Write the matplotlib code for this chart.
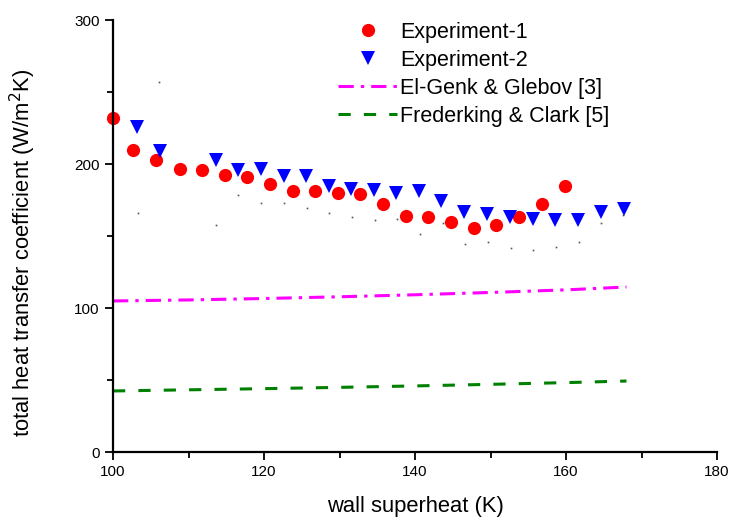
import numpy as np
import matplotlib.pyplot as plt
from matplotlib.ticker import MultipleLocator

plt.rcParams['font.family'] = ['Liberation Sans', 'DejaVu Sans']

# Experiment-1 (red circles)
x_exp1 = [100, 102.6, 105.7, 108.9, 111.8, 114.8, 117.7, 120.8, 123.8, 126.8, 129.8,
          132.7, 135.8, 138.8, 141.7, 144.8, 147.8, 150.7, 153.8, 156.8, 159.9]
h_exp1 = [232, 209.7, 202.8, 196.5, 195.8, 192.4, 191, 186, 181, 181, 180,
          179, 172, 164, 163, 160, 155.5, 157.6, 163, 172, 185]

# Experiment-2 (blue triangles)
x_exp2 = [103.2, 106.2, 113.6, 116.6, 119.6, 122.6, 125.6, 128.6, 131.5, 134.5, 137.5,
          140.5, 143.4, 146.5, 149.5, 152.6, 155.6, 158.5, 161.6, 164.6, 167.7]
h_exp2 = [225.7, 209, 203, 196, 196.5, 192, 191.7, 185, 182.6, 182, 180,
          181, 174, 166.7, 165, 163, 162, 161, 161, 166.7, 169]

# small stray marks in the original figure
x_dots = [103.3, 106.1, 113.6, 116.6, 119.6, 122.6, 125.7, 128.6, 131.7, 134.7, 137.6,
          140.7, 143.7, 146.6, 149.7, 152.7, 155.6, 158.7, 161.7, 164.6, 167.5]
h_dots = [166, 257, 157.6, 178.5, 173, 173, 169.4, 166, 163, 161, 162,
          151.4, 159, 144.4, 145.8, 141.7, 140.3, 142.4, 145.8, 159, 164.6]

# correlations
x_corr = [100, 110, 120, 130, 140, 150, 160, 168]
h_elgenk = [104.9, 105.6, 106.6, 107.8, 109.2, 110.8, 112.6, 114.6]
h_frederking = [42.4, 43.2, 44.0, 44.9, 45.9, 47.0, 48.2, 49.3]

fig = plt.figure(figsize=(7.31, 5.21), dpi=100)
ax = fig.add_axes([0.1546, 0.1324, 0.8264, 0.8292])

ax.plot(x_dots, h_dots, linestyle='none', marker='s', markersize=1.2,
        color='#555555', markeredgewidth=0)
ax.plot(x_exp1, h_exp1, linestyle='none', marker='o', markersize=9.5,
        color='#ff0000', markeredgewidth=0, label='Experiment-1', clip_on=False)
ax.plot(x_exp2, h_exp2, linestyle='none', marker='v', markersize=10.5,
        color='#0000ff', markeredgewidth=0, label='Experiment-2', clip_on=False)
ax.plot(x_corr, h_elgenk, color='#ff00ff', lw=2.2, dashes=(5, 2.3, 1.1, 2.3),
        label='El-Genk & Glebov [3]')
ax.plot(x_corr, h_frederking, color='#008000', lw=2.2, dashes=(4, 4.3),
        label='Frederking & Clark [5]')

ax.set_xlim(100, 180)
ax.set_ylim(0, 300)
ax.xaxis.set_major_locator(MultipleLocator(20))
ax.xaxis.set_minor_locator(MultipleLocator(10))
ax.yaxis.set_major_locator(MultipleLocator(100))
ax.yaxis.set_minor_locator(MultipleLocator(50))

for s in ['top', 'right']:
    ax.spines[s].set_visible(False)
for s in ['left', 'bottom']:
    ax.spines[s].set_linewidth(1.6)

ax.tick_params(which='major', direction='out', length=6, width=1.3, labelsize=11)
ax.tick_params(which='minor', direction='out', length=4, width=1.3)

ax.set_xlabel('wall superheat (K)', fontsize=15.8, labelpad=12)
ax.set_ylabel('total heat transfer coefficient (W/m$^2$K)', fontsize=15.8)
ax.yaxis.set_label_coords(-0.124, 0.46)

fig.legend(loc='upper left', bbox_to_anchor=(0.4506, 0.975), frameon=False,
           fontsize=15.5, handlelength=2.75, handletextpad=0.15, labelspacing=0.33,
           borderaxespad=0)

fig.savefig('out.png', dpi=100)
